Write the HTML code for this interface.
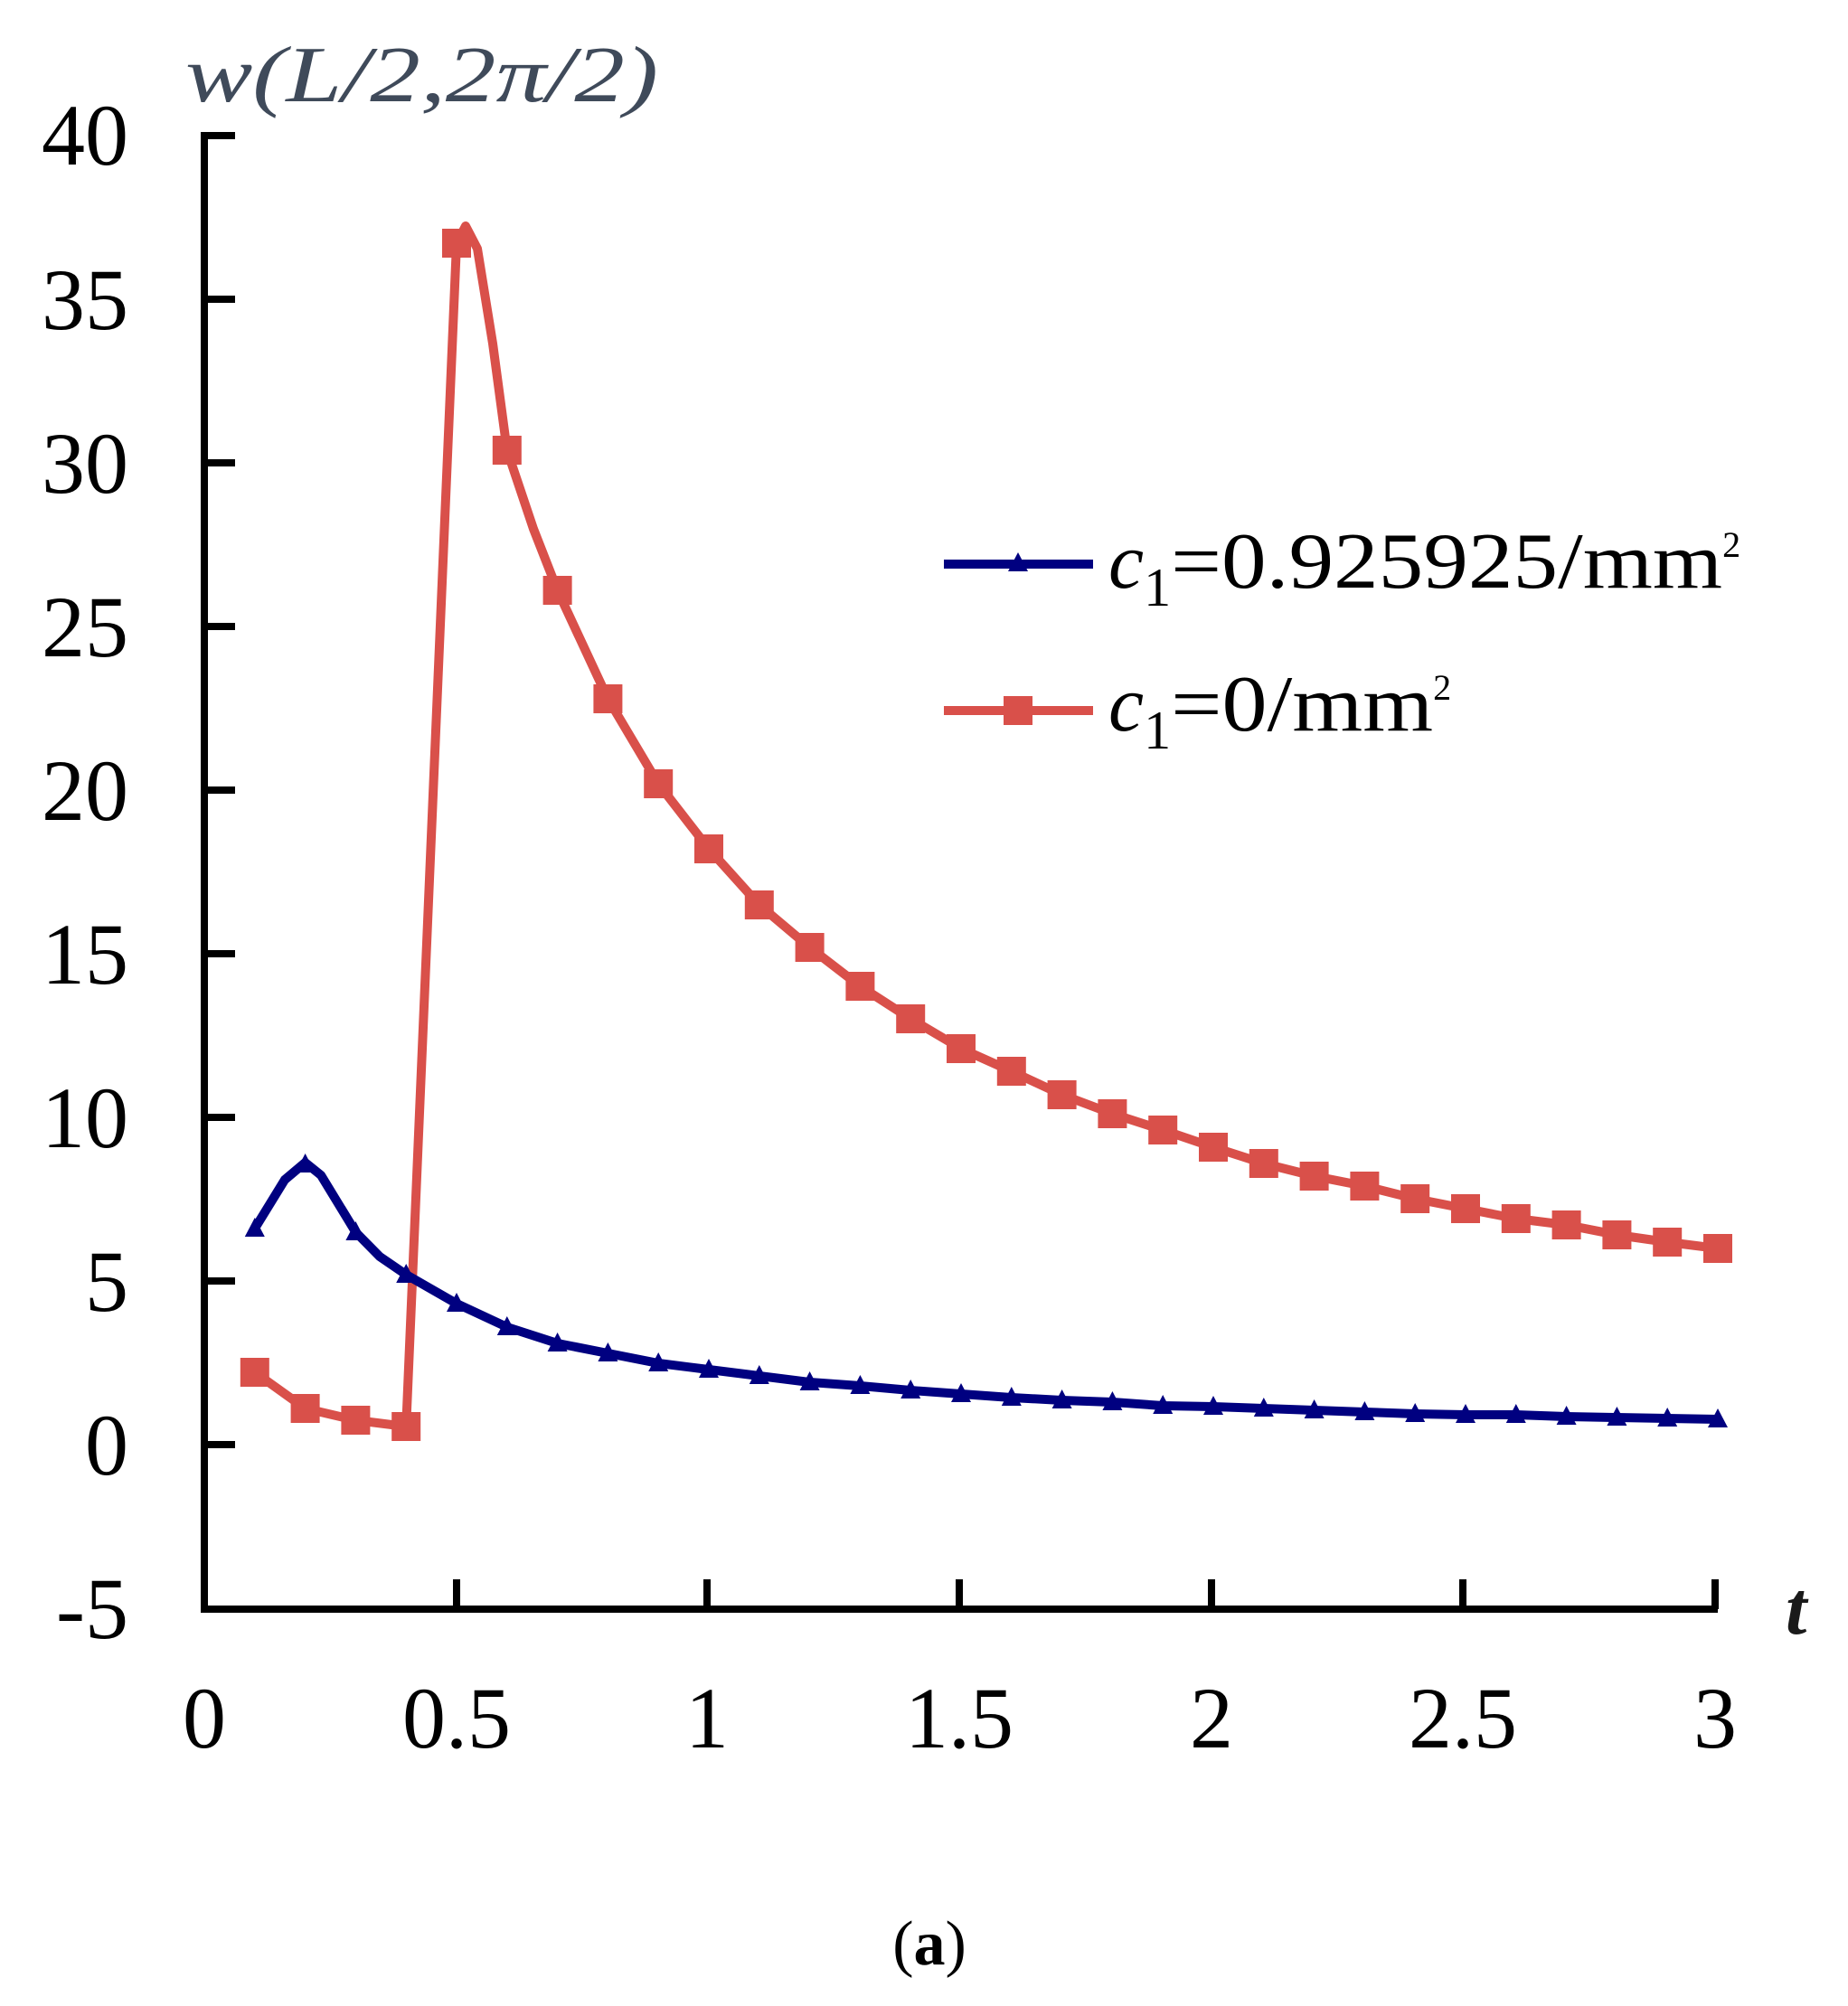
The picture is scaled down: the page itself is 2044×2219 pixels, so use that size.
<!DOCTYPE html>
<html><head><meta charset="utf-8"><style>
html,body{margin:0;padding:0;background:#fff;}
svg{display:block;}
</style></head><body>
<svg width="2044" height="2219" viewBox="0 0 2044 2219" xmlns="http://www.w3.org/2000/svg">
<defs>
<marker id="sq" markerUnits="userSpaceOnUse" markerWidth="34" markerHeight="34" refX="17" refY="17"><rect x="1" y="1" width="32" height="32" fill="#d9504a"/></marker>
<marker id="tri" markerUnits="userSpaceOnUse" markerWidth="26" markerHeight="26" refX="13" refY="14"><polygon points="13,2 24,23 2,23" fill="#000080"/></marker>
</defs>
<text x="205" y="112" font-family="Liberation Serif, serif" font-style="italic" font-size="88" fill="#3f4a5a" textLength="523" lengthAdjust="spacingAndGlyphs">w(L/2,2π/2)</text>
<g font-family="Liberation Serif, serif" font-size="96" fill="#000" text-anchor="end">
<text x="142" y="182">40</text><text x="142" y="364">35</text><text x="142" y="545">30</text><text x="142" y="726">25</text><text x="142" y="907">20</text><text x="142" y="1088">15</text><text x="142" y="1269">10</text><text x="142" y="1450">5</text><text x="142" y="1631">0</text><text x="142" y="1812">-5</text>
</g>
<g font-family="Liberation Serif, serif" font-size="96" fill="#000" text-anchor="middle">
<text x="226" y="1933">0</text><text x="505" y="1933">0.5</text><text x="782" y="1933">1</text><text x="1061" y="1933">1.5</text><text x="1340" y="1933">2</text><text x="1618" y="1933">2.5</text><text x="1897" y="1933">3</text>
</g>
<text x="1975" y="1807" font-family="Liberation Serif, serif" font-style="italic" font-weight="bold" font-size="84" fill="#1a1a1a">t</text>
<text x="1028" y="2173" font-family="Liberation Serif, serif" font-size="70" fill="#000" text-anchor="middle">(<tspan font-weight="bold">a</tspan>)</text>
<g stroke="#000" stroke-width="8" fill="none">
<path d="M226,146 V1780 H1900"/>
<path d="M226,150 h34 M226,331 h34 M226,512 h34 M226,693 h34 M226,874 h34 M226,1055 h34 M226,1236 h34 M226,1417 h34 M226,1598 h34"/>
<path d="M505,1780 v-33 M782,1780 v-33 M1061,1780 v-33 M1340,1780 v-33 M1618,1780 v-33 M1897,1780 v-33"/>
</g>
<polyline fill="none" stroke="#d9504a" stroke-width="10" stroke-linejoin="round" points="281.8,1518 337.6,1558 393.4,1571 449.2,1578 505,269 515,250 528,275 545,380 560.8,498 590,585 616.6,653 672.4,773 728.2,867 784,939 839.8,1001 895.6,1048 951.4,1091 1007.2,1127 1063,1160 1118.8,1185 1174.6,1211 1230.4,1232 1286.2,1250 1342,1269 1397.8,1287 1453.6,1301 1509.4,1312 1565.2,1326 1621,1337 1676.8,1348 1732.6,1355 1788.4,1366 1844.2,1374 1900,1381"/>
<polyline fill="none" stroke="none" marker-start="url(#sq)" marker-mid="url(#sq)" marker-end="url(#sq)" points="281.8,1518 337.6,1558 393.4,1571 449.2,1578 505,269 560.8,498 616.6,653 672.4,773 728.2,867 784,939 839.8,1001 895.6,1048 951.4,1091 1007.2,1127 1063,1160 1118.8,1185 1174.6,1211 1230.4,1232 1286.2,1250 1342,1269 1397.8,1287 1453.6,1301 1509.4,1312 1565.2,1326 1621,1337 1676.8,1348 1732.6,1355 1788.4,1366 1844.2,1374 1900,1381"/>
<polyline fill="none" stroke="#000080" stroke-width="10" stroke-linejoin="round" points="281.8,1359 315,1305 337.6,1286 355,1300 393.4,1363 420,1390 449.2,1410 505,1442 560.8,1468 616.6,1486 672.4,1497 728.2,1508 784,1515 839.8,1522 895.6,1529 951.4,1533 1007.2,1538 1063,1542 1118.8,1546 1174.6,1549 1230.4,1551 1286.2,1555 1342,1556 1397.8,1558 1453.6,1560 1509.4,1562 1565.2,1564 1621,1565 1676.8,1565 1732.6,1567 1788.4,1568 1844.2,1569 1900,1570"/>
<polyline fill="none" stroke="none" marker-start="url(#tri)" marker-mid="url(#tri)" marker-end="url(#tri)" points="281.8,1359 337.6,1288 393.4,1363 449.2,1410 505,1442 560.8,1468 616.6,1486 672.4,1497 728.2,1508 784,1515 839.8,1522 895.6,1529 951.4,1533 1007.2,1538 1063,1542 1118.8,1546 1174.6,1549 1230.4,1551 1286.2,1555 1342,1556 1397.8,1558 1453.6,1560 1509.4,1562 1565.2,1564 1621,1565 1676.8,1565 1732.6,1567 1788.4,1568 1844.2,1569 1900,1570"/>
<line x1="1044" y1="624" x2="1209" y2="624" stroke="#000080" stroke-width="10"/>
<polygon points="1126,611 1137,632 1115,632" fill="#000080"/>
<line x1="1044" y1="786" x2="1209" y2="786" stroke="#d9504a" stroke-width="10"/>
<rect x="1110" y="770" width="32" height="32" fill="#d9504a"/>
<g font-family="Liberation Serif, serif" font-size="88" fill="#000">
<text x="1226" y="650"><tspan font-style="italic">c</tspan><tspan font-size="60" dy="20">1</tspan><tspan dy="-20" textLength="610" lengthAdjust="spacingAndGlyphs">=0.925925/mm</tspan><tspan font-size="40" dy="-34">2</tspan></text>
<text x="1226" y="808"><tspan font-style="italic">c</tspan><tspan font-size="60" dy="20">1</tspan><tspan dy="-20" textLength="290" lengthAdjust="spacingAndGlyphs">=0/mm</tspan><tspan font-size="40" dy="-34">2</tspan></text>
</g>
</svg>
</body></html>
